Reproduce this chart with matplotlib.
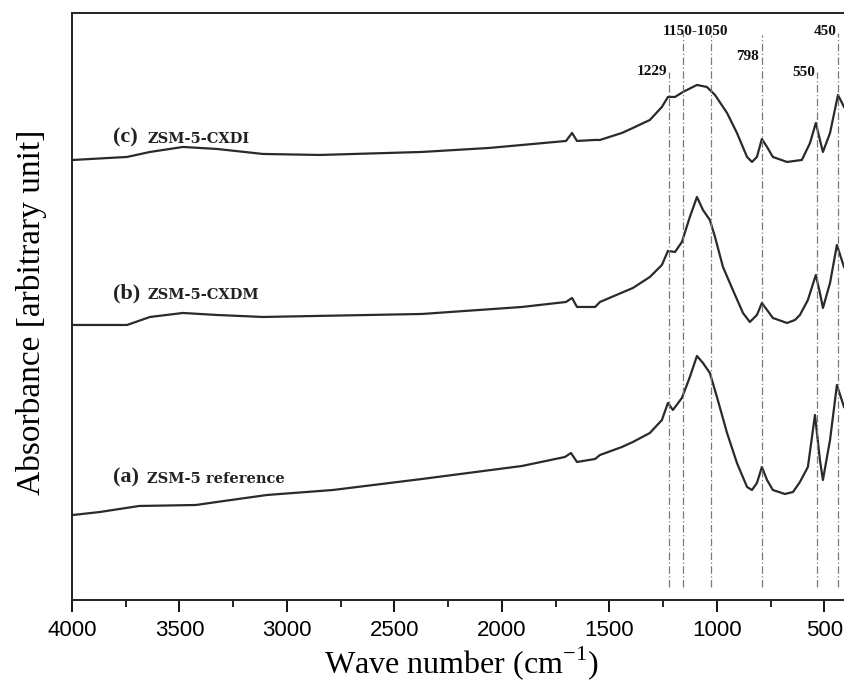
import matplotlib
matplotlib.use("Agg")
import matplotlib.pyplot as plt

plt.rcParams['font.family'] = ['Liberation Sans', 'DejaVu Sans']
plt.rcParams['mathtext.fontset'] = 'custom'
plt.rcParams['mathtext.rm'] = 'Liberation Serif'

# --- FTIR spectra (wavenumber cm-1, absorbance a.u.) ---
c_wn = [3995, 3744, 3637, 3484, 3326, 3112, 2847, 2372, 2060, 1753, 1702, 1674, 1651, 1567, 1544,
        1442, 1391, 1312, 1256, 1228, 1195, 1158, 1093, 1047, 1009, 953, 907, 860, 837, 814,
        791, 767, 740, 674, 605, 567, 540, 521, 507, 474, 437, 409]
c_abs = [4.42, 4.45, 4.50, 4.55, 4.53, 4.48, 4.47, 4.50, 4.54, 4.60, 4.61, 4.69, 4.61, 4.62, 4.62,
         4.69, 4.74, 4.82, 4.95, 5.05, 5.05, 5.10, 5.17, 5.15, 5.07, 4.89, 4.69, 4.45, 4.40, 4.45,
         4.63, 4.55, 4.45, 4.40, 4.42, 4.59, 4.79, 4.62, 4.50, 4.69, 5.07, 4.95]

b_wn = [3995, 3744, 3637, 3484, 3326, 3112, 2372, 1907, 1702, 1674, 1651, 1567, 1544, 1391, 1312,
        1256, 1228, 1195, 1163, 1126, 1093, 1065, 1033, 1009, 972, 926, 879, 847, 814, 791,
        767, 740, 674, 637, 614, 577, 540, 521, 507, 474, 442, 409]
b_abs = [2.77, 2.77, 2.85, 2.89, 2.87, 2.85, 2.88, 2.95, 3.00, 3.04, 2.95, 2.95, 3.00, 3.14, 3.25,
         3.37, 3.51, 3.50, 3.60, 3.85, 4.05, 3.92, 3.82, 3.65, 3.35, 3.12, 2.89, 2.80, 2.87, 2.99,
         2.92, 2.84, 2.79, 2.82, 2.87, 3.02, 3.27, 3.09, 2.94, 3.19, 3.57, 3.35]

a_wn = [3995, 3870, 3688, 3423, 3326, 3093, 2786, 2372, 1907, 1707, 1679, 1651, 1567, 1544, 1442,
        1391, 1312, 1256, 1228, 1205, 1163, 1126, 1093, 1065, 1033, 1000, 953, 907, 860, 837,
        814, 791, 767, 740, 684, 646, 614, 577, 544, 521, 507, 474, 442, 409]
a_abs = [0.87, 0.90, 0.96, 0.97, 1.00, 1.07, 1.12, 1.23, 1.36, 1.45, 1.49, 1.40, 1.43, 1.47, 1.55,
         1.60, 1.69, 1.82, 1.99, 1.92, 2.04, 2.25, 2.46, 2.39, 2.29, 2.05, 1.69, 1.39, 1.15, 1.12,
         1.19, 1.35, 1.22, 1.12, 1.08, 1.10, 1.20, 1.35, 1.87, 1.42, 1.22, 1.62, 2.17, 1.95]

sample_tags = ["(c)", "(b)", "(a)"]
sample_names = ["ZSM-5-CXDI", "ZSM-5-CXDM", "ZSM-5 reference"]
tag_levels = [4.59, 3.03, 1.19]

# reference band positions (dash-dot guides) and their labels
band_pos = [1223, 1158, 1028, 791, 535, 437]
band_top = [5.30, 5.69, 5.67, 5.67, 5.30, 5.69]
band_labels = ["1229", "1150-1050", "798", "550", "450"]
label_x = [1233, 1102, 805, 544, 442]
label_y = [5.27, 5.67, 5.42, 5.26, 5.67]
label_ha = ["right", "center", "right", "right", "right"]

fig = plt.figure(figsize=(8.44, 6.85), dpi=100)
ax = fig.add_axes([0.0853, 0.1241, 0.9147, 0.857])

for wn, ab in [(c_wn, c_abs), (b_wn, b_abs), (a_wn, a_abs)]:
    ax.plot(wn, ab, color='#2a2a2a', lw=1.6, solid_joinstyle='round')

ax.vlines(band_pos, 0.15, band_top, colors='#7a7a7a', lw=0.9,
          linestyles=[(0, (6, 2, 1, 2))])

for txt, x, y, ha in zip(band_labels, label_x, label_y, label_ha):
    ax.text(x, y, txt, ha=ha, va='baseline', fontsize=11, fontweight='bold',
            family='Liberation Serif', color='#111')

for tag, name, y in zip(sample_tags, sample_names, tag_levels):
    ax.text(3809, y, tag, ha='left', va='baseline', fontsize=16, fontweight='bold',
            family='Liberation Serif', color='#222')
    ax.text(3651, y, name, ha='left', va='baseline', fontsize=10.5, fontweight='bold',
            family='DejaVu Serif', color='#222')

ax.set_xlim(4000, 409)
ax.set_ylim(0.02, 5.89)
ax.set_xticks([4000, 3500, 3000, 2500, 2000, 1500, 1000, 500])
ax.set_xticks([3750, 3250, 2750, 2250, 1750, 1250, 750], minor=True)
ax.tick_params(axis='x', which='major', direction='out', length=8.5, width=1.3,
               labelsize=16, pad=6)
ax.tick_params(axis='x', which='minor', direction='out', length=5, width=1.2)
ax.set_yticks([])
ax.spines['right'].set_visible(False)
for s in ['left', 'bottom', 'top']:
    ax.spines[s].set_linewidth(1.4)
    ax.spines[s].set_color('#222')

ax.set_xlabel("Wave number (cm$^{\\mathrm{-1}}$)", family='Liberation Serif', fontsize=23)
ax.xaxis.set_label_coords(0.504, -0.076)
ax.set_ylabel("Absorbance [arbitrary unit]", family='Liberation Serif', fontsize=24)
ax.yaxis.set_label_coords(-0.032, 0.49)

fig.savefig("out.png", dpi=100)
